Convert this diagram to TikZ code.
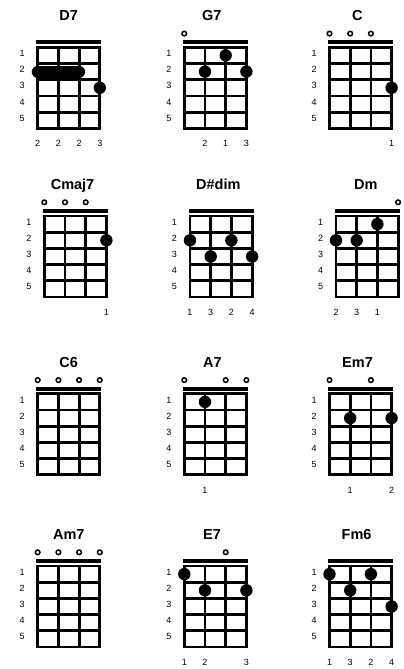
\documentclass[tikz,border=0pt]{standalone}
\usepackage{fontspec}
\setmainfont{Liberation Sans}
\def\sx{20.7}
\def\fy{16.2}
\tikzset{
  fretline/.style={line width=2.8pt, line cap=rect},
  nutbar/.style={fill=black},
  openstr/.style={draw=black, line width=1.5pt, fill=white},
  fingerdot/.style={fill=black},
  barre/.style={line width=12pt, line cap=round},
  chordname/.style={font=\fontsize{14.5}{16}\selectfont\bfseries, anchor=base, inner sep=0pt},
  fretnum/.style={font=\fontsize{9}{10}\selectfont, inner sep=0pt},
  fingernum/.style={font=\fontsize{9}{10}\selectfont, inner sep=0pt},
}

\begin{document}
\begin{tikzpicture}[x=1pt, y=-1pt]
  \useasboundingbox (0,0) rectangle (404,669);

  % empty chord boxes: grid, nut, fret numbers, title
  \foreach \cname/\gx/\gy/\ctitle/\tx in {
      d7/37.7/47.3/D7/0, g7/184.3/47.3/G7/-3.5, c/329.5/47.3/C/-3.2,
      cmajseven/44.3/216/Cmaj7/-2.8, ddim/190/216/D\#dim/-2.7, dm/336/216/Dm/-1.3,
      csix/37.7/393.8/C6/0, aseven/184.3/393.8/A7/-3, emseven/329.5/393.8/Em7/-3,
      amseven/37.7/566/Am7/0, eseven/184.3/566/E7/-3.3, fmsix/329.5/566/Fm6/-4}{
    \begin{scope}[shift={(\gx,\gy)}]
      \coordinate (\cname) at (0,0);
      \node[chordname] (\cname-title) at (1.5*\sx+\tx,-26.8) {\ctitle};
      \fill[nutbar] (-1.4,-7) rectangle (3*\sx+1.4,-3);
      \foreach \i in {0,...,3}
        \draw[fretline] (\i*\sx,0) -- (\i*\sx,5*\fy);
      \foreach \j in {0,...,5}
        \draw[fretline] (0,\j*\fy) -- (3*\sx,\j*\fy);
      \foreach \j in {1,...,5}
        \node[fretnum] (\cname-fret\j) at (-15.5,\j*\fy-0.5*\fy-2) {\j};
    \end{scope}
  }

  % D7
  \begin{scope}[shift={(d7)}]
    \draw[barre] (0,1.5*\fy) -- (2*\sx,1.5*\fy);
    \fill[fingerdot] (3*\sx,2.5*\fy) circle (6.2);
    \foreach \s/\n in {0/2,1/2,2/2,3/3}
      \node[fingernum] (d7-n\s) at (\s*\sx,96.5) {\n};
  \end{scope}

  % G7
  \begin{scope}[shift={(g7)}]
    \draw[openstr] (0,-13.7) circle (2.3);
    \foreach \s/\f in {1/2,2/1,3/2}
      \fill[fingerdot] (\s*\sx,\f*\fy-0.5*\fy) circle (6.2);
    \foreach \s/\n in {1/2,2/1,3/3}
      \node[fingernum] (g7-n\s) at (\s*\sx,96.5) {\n};
  \end{scope}

  % C
  \begin{scope}[shift={(c)}]
    \foreach \s in {0,1,2}
      \draw[openstr] (\s*\sx,-13.7) circle (2.3);
    \fill[fingerdot] (3*\sx,2.5*\fy) circle (6.2);
    \node[fingernum] (c-n3) at (3*\sx,96.5) {1};
  \end{scope}

  % Cmaj7
  \begin{scope}[shift={(cmajseven)}]
    \foreach \s in {0,1,2}
      \draw[openstr] (\s*\sx,-13.7) circle (2.3);
    \fill[fingerdot] (3*\sx,1.5*\fy) circle (6.2);
    \node[fingernum] (cmajseven-n3) at (3*\sx,96.5) {1};
  \end{scope}

  % D#dim
  \begin{scope}[shift={(ddim)}]
    \foreach \s/\f in {0/2,1/3,2/2,3/3}
      \fill[fingerdot] (\s*\sx,\f*\fy-0.5*\fy) circle (6.2);
    \foreach \s/\n in {0/1,1/3,2/2,3/4}
      \node[fingernum] (ddim-n\s) at (\s*\sx,96.5) {\n};
  \end{scope}

  % Dm
  \begin{scope}[shift={(dm)}]
    \draw[openstr] (3*\sx,-13.7) circle (2.3);
    \foreach \s/\f in {0/2,1/2,2/1}
      \fill[fingerdot] (\s*\sx,\f*\fy-0.5*\fy) circle (6.2);
    \foreach \s/\n in {0/2,1/3,2/1}
      \node[fingernum] (dm-n\s) at (\s*\sx,96.5) {\n};
  \end{scope}

  % C6
  \begin{scope}[shift={(csix)}]
    \foreach \s in {0,...,3}
      \draw[openstr] (\s*\sx,-13.7) circle (2.3);
  \end{scope}

  % A7
  \begin{scope}[shift={(aseven)}]
    \foreach \s in {0,2,3}
      \draw[openstr] (\s*\sx,-13.7) circle (2.3);
    \fill[fingerdot] (\sx,0.5*\fy) circle (6.2);
    \node[fingernum] (aseven-n1) at (\sx,96.5) {1};
  \end{scope}

  % Em7
  \begin{scope}[shift={(emseven)}]
    \foreach \s in {0,2}
      \draw[openstr] (\s*\sx,-13.7) circle (2.3);
    \foreach \s in {1,3}
      \fill[fingerdot] (\s*\sx,1.5*\fy) circle (6.2);
    \foreach \s/\n in {1/1,3/2}
      \node[fingernum] (emseven-n\s) at (\s*\sx,96.5) {\n};
  \end{scope}

  % Am7
  \begin{scope}[shift={(amseven)}]
    \foreach \s in {0,...,3}
      \draw[openstr] (\s*\sx,-13.7) circle (2.3);
  \end{scope}

  % E7
  \begin{scope}[shift={(eseven)}]
    \draw[openstr] (2*\sx,-13.7) circle (2.3);
    \foreach \s/\f in {0/1,1/2,3/2}
      \fill[fingerdot] (\s*\sx,\f*\fy-0.5*\fy) circle (6.2);
    \foreach \s/\n in {0/1,1/2,3/3}
      \node[fingernum] (eseven-n\s) at (\s*\sx,96.5) {\n};
  \end{scope}

  % Fm6
  \begin{scope}[shift={(fmsix)}]
    \foreach \s/\f in {0/1,1/2,2/1,3/3}
      \fill[fingerdot] (\s*\sx,\f*\fy-0.5*\fy) circle (6.2);
    \foreach \s/\n in {0/1,1/3,2/2,3/4}
      \node[fingernum] (fmsix-n\s) at (\s*\sx,96.5) {\n};
  \end{scope}
\end{tikzpicture}
\end{document}
